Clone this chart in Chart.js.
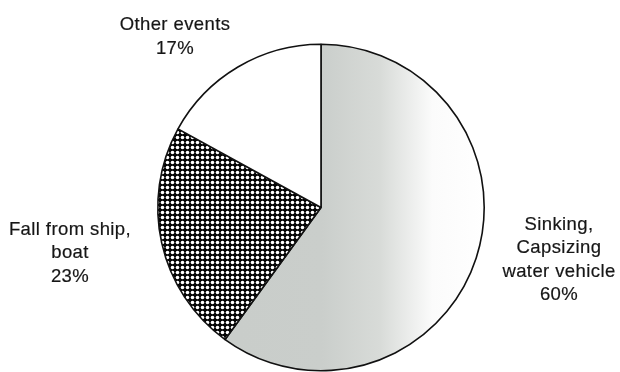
<!DOCTYPE html>
<html>
<head>
<meta charset="utf-8">
<script src="https://cdn.jsdelivr.net/npm/chart.js@4"></script>
<style>
  html, body { margin: 0; padding: 0; background: #fff; }
  #wrap { width: 620px; height: 372px; }
</style>
</head>
<body>
<div id="wrap"><canvas id="pieChart" width="620" height="372"></canvas></div>
<script>
// Causes of drowning, share of cases
const categories = ['Sinking, Capsizing water vehicle', 'Fall from ship, boat', 'Other events'];
const labelLines = [
    ['Sinking,', 'Capsizing', 'water vehicle'],
    ['Fall from ship,', 'boat'],
    ['Other events']
];
const shares = [60, 23, 17];

// where each slice caption starts (first baseline, centred on x)
const labelAnchors = [[559, 229.5], [70, 234.5], [175, 30]];

// black screen with white dots for the middle slice
function dotPattern(ctx) {
    const tile = document.createElement('canvas');
    tile.width = 5;
    tile.height = 5;
    const t = tile.getContext('2d');
    t.fillStyle = '#050505';
    t.fillRect(0, 0, 5, 5);
    t.fillStyle = '#ffffff';
    t.beginPath();
    t.arc(2.5, 2.5, 1.8, 0, Math.PI * 2);
    t.fill();
    return ctx.createPattern(tile, 'repeat');
}

// grey shading that fades out towards the right edge
function greyFade(chart) {
    const area = chart.chartArea;
    if (!area) return '#c9cdca';
    const g = chart.ctx.createLinearGradient(area.left, 0, area.right, 0);
    g.addColorStop(0.0, '#c8ccc9');
    g.addColorStop(0.5, '#cacecb');
    g.addColorStop(0.68, '#d8dbd8');
    g.addColorStop(0.84, '#fbfbfb');
    g.addColorStop(1.0, '#ffffff');
    return g;
}

const captionPlugin = {
    id: 'captions',
    afterDraw(chart) {
        const ctx = chart.ctx;
        ctx.save();
        ctx.font = '18.5px "Liberation Sans", Arial, sans-serif';
        ctx.letterSpacing = '0.4px';
        ctx.fillStyle = '#161616';
        ctx.strokeStyle = '#161616';
        ctx.lineWidth = 0.2;
        ctx.textAlign = 'center';
        ctx.textBaseline = 'alphabetic';
        labelLines.forEach((lines, i) => {
            const [x, y] = labelAnchors[i];
            const rows = lines.concat([shares[i] + '%']);
            rows.forEach((row, r) => {
                ctx.fillText(row, x, y + r * 23.5);
                ctx.strokeText(row, x, y + r * 23.5);
            });
        });
        ctx.restore();
    }
};

const ctx = document.getElementById('pieChart').getContext('2d');
const dots = dotPattern(ctx);

new Chart(ctx, {
    type: 'pie',
    data: {
        labels: categories,
        datasets: [{
            data: shares,
            backgroundColor: (c) => {
                if (c.dataIndex === 0) return greyFade(c.chart);
                if (c.dataIndex === 1) return dots;
                return '#ffffff';
            },
            borderColor: '#111111',
            borderWidth: 1.6
        }]
    },
    options: {
        responsive: false,
        animation: false,
        layout: {
            padding: { top: 43, bottom: 0, left: 157, right: 135 }
        },
        plugins: {
            legend: { display: false },
            tooltip: { enabled: false }
        }
    },
    plugins: [captionPlugin]
});
</script>
</body>
</html>
